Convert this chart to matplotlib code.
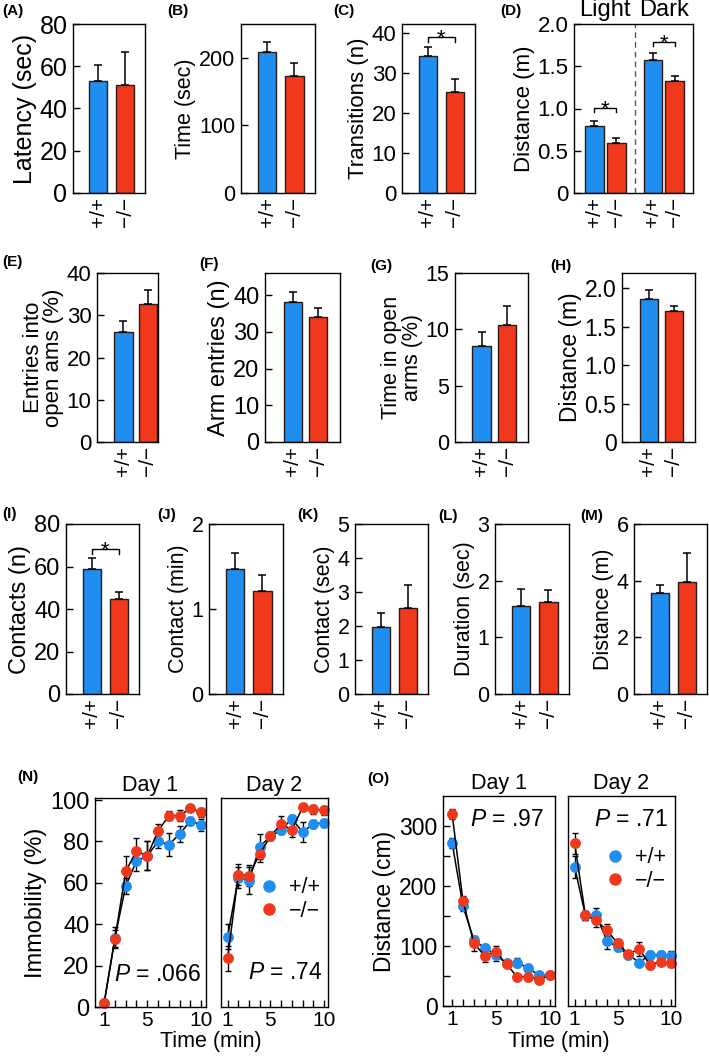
import matplotlib
matplotlib.use("Agg")
import matplotlib.pyplot as plt
from matplotlib.lines import Line2D

plt.rcParams["font.family"] = ["Liberation Sans", "DejaVu Sans"]
plt.rcParams["mathtext.fontset"] = "custom"
plt.rcParams["mathtext.rm"] = "Liberation Sans"
plt.rcParams["mathtext.it"] = "Liberation Sans:italic"

BLUE = "#1f8ef1"
RED = "#f0391c"
EDGE = "#2a1a14"
W, H = 709, 1062

GENO = ["+/+", "\u2212/\u2212"]

# --- bar panels: mean, sem (upper) ---
A_mean, A_sem = [53.2, 51.3], [7.5, 15.3]
B_mean, B_sem = [209, 173], [14, 20]
C_mean, C_sem = [34.2, 25.3], [2.3, 3.1]
D_mean, D_sem = [0.795, 0.59, 1.572, 1.32], [0.06, 0.06, 0.083, 0.07]
E_mean, E_sem = [26.1, 32.7], [2.5, 3.3]
F_mean, F_sem = [38.2, 34.0], [2.6, 2.4]
G_mean, G_sem = [8.5, 10.35], [1.3, 1.7]
H_mean, H_sem = [1.86, 1.71], [0.125, 0.065]
I_mean, I_sem = [58.9, 44.7], [4.9, 3.3]
J_mean, J_sem = [1.47, 1.21], [0.19, 0.19]
K_mean, K_sem = [1.97, 2.53], [0.41, 0.67]
L_mean, L_sem = [1.56, 1.62], [0.29, 0.22]
M_mean, M_sem = [3.57, 3.95], [0.28, 1.04]

# --- time courses (N: immobility %, O: distance cm) ---
MIN = list(range(1, 11))
N1_wt = [2, 33.5, 58.5, 70.5, 73, 80, 78.5, 83.5, 90, 88]
N1_wt_sem = [0, 5, 4, 5, 7, 3, 5.5, 4, 2, 3]
N1_ko = [2, 33, 65.5, 75.5, 73, 85, 92.5, 92.5, 96, 94]
N1_ko_sem = [0, 4, 7.5, 6, 7, 3.5, 2, 2.5, 1.5, 2]
N2_wt = [34, 62.5, 61, 77.5, 82.5, 85.5, 91, 84.5, 88.5, 89]
N2_wt_sem = [6, 5, 6.5, 6, 2, 2, 2, 5, 2, 2]
N2_ko = [23.5, 64, 63.5, 74, 82.5, 88.5, 85.5, 96.5, 95.5, 95]
N2_ko_sem = [6, 5, 5, 4, 2, 4, 3.5, 1, 2, 2]
O1_wt = [272, 166, 110, 96.5, 85.5, 71, 72.5, 63, 51, 52]
O1_wt_sem = [8, 8, 7, 7, 10, 5, 7, 6, 4, 5]
O1_ko = [320, 175, 104.5, 83.5, 90.5, 69.5, 48.5, 49, 44, 51]
O1_ko_sem = [9, 8, 12, 10, 10, 5, 4, 4, 4, 5]
O2_wt = [231.5, 151, 151, 109, 98, 85.5, 72.5, 85.5, 85.5, 84]
O2_wt_sem = [18, 7, 12, 14, 6, 7, 5, 7, 7, 7]
O2_ko = [271, 151, 143, 126, 104.5, 86.5, 95, 68.5, 74, 71]
O2_ko_sem = [18, 8, 12, 10, 8, 6, 11, 7, 6, 6]

fig = plt.figure(figsize=(W / 100, H / 100), dpi=100)


def box(l, r, t, b):
    return fig.add_axes([l / W, 1 - b / H, (r - l) / W, (b - t) / H])


def style(ax, fs):
    for s in ax.spines.values():
        s.set_linewidth(1.0)
    ax.tick_params(axis="y", direction="in", length=5, width=1, labelsize=fs, pad=4)


def bar_panel(ax, means, sems, ylim, yticks, ylabel, fs=16, xlim=(-0.95, 1.75),
              width=0.67, pos=(0, 1), ytl=None):
    cols = [BLUE, RED] * (len(means) // 2)
    ax.bar(pos, means, width, color=cols, edgecolor=EDGE, linewidth=1, zorder=2)
    ax.errorbar(pos, means, yerr=[[0] * len(means), sems], fmt="none", ecolor="k",
                elinewidth=1.1, capsize=3, capthick=1.1, zorder=3)
    ax.set_xlim(*xlim)
    ax.set_ylim(*ylim)
    ax.set_yticks(yticks)
    if ytl:
        ax.set_yticklabels(ytl)
    ax.set_xticks(pos)
    ax.set_xticklabels(GENO * (len(means) // 2), rotation=90, fontsize=15)
    ax.tick_params(axis="x", length=0, pad=3)
    ax.set_ylabel(ylabel, fontsize=fs, labelpad=2, linespacing=0.95)
    style(ax, fs)


def bracket(ax, x0, x1, y, h):
    ax.plot([x0, x0, x1, x1], [y - h, y, y, y - h], color="k", lw=1)
    ax.annotate("*", xy=((x0 + x1) / 2, y), xytext=(0, -5), textcoords="offset points",
                ha="center", va="baseline", fontsize=16)


# row 1
ax = box(73, 145, 24, 193)
bar_panel(ax, A_mean, A_sem, (0, 80), range(0, 81, 20), "Latency (sec)", fs=18)
ax = box(241, 315, 24, 193)
bar_panel(ax, B_mean, B_sem, (0, 250), [0, 100, 200], "Time (sec)", fs=15.5)
ax = box(402, 475, 24, 193)
bar_panel(ax, C_mean, C_sem, (0, 42.2), range(0, 41, 10), "Transitions (n)", fs=16)
bracket(ax, 0, 1, 38.9, 1.1)
ax = box(574, 693, 24, 193)
bar_panel(ax, D_mean, D_sem, (0, 2.0), [0, 0.5, 1.0, 1.5, 2.0], "Distance (m)", fs=16,
          xlim=(-0.91, 4.44), width=0.85, pos=(0, 1, 2.64, 3.62),
          ytl=["0", "0.5", "1.0", "1.5", "2.0"])
ax.axvline(1.82, color="#555555", lw=1, ls=(0, (4, 3)))
bracket(ax, 0, 1, 1.005, 0.045)
bracket(ax, 2.64, 3.62, 1.79, 0.055)
ax.text(0.5, 2.03, "Light", ha="center", va="bottom", fontsize=17)
ax.text(3.13, 2.03, "Dark", ha="center", va="bottom", fontsize=17)

# row 2
ax = box(97, 158, 273, 442)
bar_panel(ax, E_mean, E_sem, (0, 40), range(0, 41, 10), "Entries into\nopen ams (%)", fs=16,
          xlim=(-1.08, 1.41), width=0.75)
ax = box(265, 340, 273, 442)
bar_panel(ax, F_mean, F_sem, (0, 46), range(0, 41, 10), "Arm entries (n)", fs=17,
          xlim=(-1.1, 1.86), width=0.72)
ax = box(455, 528, 273, 442)
bar_panel(ax, G_mean, G_sem, (0, 15), range(0, 16, 5), "Time in open\narms (%)", fs=15.5,
          xlim=(-1.04, 1.82), width=0.72)
ax = box(622, 695, 273, 442)
bar_panel(ax, H_mean, H_sem, (0, 2.2), [0, 0.5, 1.0, 1.5, 2.0], "Distance (m)", fs=16.5,
          xlim=(-1.06, 1.86), width=0.72, ytl=["0", "0.5", "1.0", "1.5", "2.0"])

# row 3
ax = box(66, 139, 524, 694)
bar_panel(ax, I_mean, I_sem, (0, 80), range(0, 81, 20), "Contacts (n)", fs=17)
bracket(ax, 0, 1, 68.2, 2.1)
ax = box(209, 283, 524, 694)
bar_panel(ax, J_mean, J_sem, (0, 2), [0, 1, 2], "Contact (min)", fs=15.5)
ax = box(355, 428, 524, 694)
bar_panel(ax, K_mean, K_sem, (0, 5), range(0, 6), "Contact (sec)", fs=15.5)
ax = box(495, 569, 524, 694)
bar_panel(ax, L_mean, L_sem, (0, 3), range(0, 4), "Duration (sec)", fs=15.5)
ax = box(634, 707, 524, 694)
bar_panel(ax, M_mean, M_sem, (0, 6), [0, 2, 4, 6], "Distance (m)", fs=15.5)


# row 4: time courses
def time_panel(ax, wt, wt_sem, ko, ko_sem, xlim, ylim):
    for y, e, c in ((wt, wt_sem, BLUE), (ko, ko_sem, RED)):
        ax.errorbar(MIN, y, yerr=e, fmt="-o", color="k", mfc=c, mec=c, ms=6.8,
                    lw=1.1, elinewidth=1, capsize=2.5, capthick=1, clip_on=False)
    ax.set_xlim(*xlim)
    ax.set_ylim(*ylim)
    ax.set_xticks([1, 5, 10])
    ax.set_xticks(MIN, minor=True)
    ax.tick_params(axis="x", which="both", direction="in", length=5, width=1,
                   labelsize=15, pad=3)
    for s in ax.spines.values():
        s.set_linewidth(1.0)


def legend(ax, x0, y0):
    h = [Line2D([], [], marker="o", ls="none", color=c, ms=8) for c in (BLUE, RED)]
    ax.legend(h, GENO, loc="upper left", bbox_to_anchor=(x0, y0), frameon=False,
              fontsize=15.5, handlelength=0.8, handletextpad=0.5, labelspacing=0.1,
              borderaxespad=0, borderpad=0)


def ptext(ax, x, y, s):
    ax.text(x, y, "$P$ = " + s, transform=ax.transAxes, ha="center", va="center",
            fontsize=16.5)


ax1 = box(95, 206, 798, 1007)
time_panel(ax1, N1_wt, N1_wt_sem, N1_ko, N1_ko_sem, (0.15, 10.45), (0, 101))
ax1.set_yticks(range(0, 101, 20))
ax1.tick_params(axis="y", direction="in", length=5, width=1, labelsize=17, pad=4)
ax1.set_ylabel("Immobility (%)", fontsize=17, labelpad=2)
ax1.set_title("Day 1", fontsize=15.5, pad=5)
ptext(ax1, 0.56, 0.155, ".066")
ax2 = box(221, 328, 798, 1007)
time_panel(ax2, N2_wt, N2_wt_sem, N2_ko, N2_ko_sem, (0.38, 10.38), (0, 101))
ax2.set_yticks([])
ax2.set_title("Day 2", fontsize=15.5, pad=5)
ptext(ax2, 0.6, 0.165, ".74")
legend(ax2, 0.37, 0.62)
fig.text(211 / W, 1 - 1041 / H, "Time (min)", ha="center", va="center", fontsize=15.5)

ax3 = box(443, 555, 796, 1006)
time_panel(ax3, O1_wt, O1_wt_sem, O1_ko, O1_ko_sem, (0.16, 10.46), (0, 350))
ax3.set_yticks([0, 100, 200, 300])
ax3.set_yticks([50, 150, 250], minor=True)
ax3.tick_params(axis="y", which="both", direction="in", length=5, width=1,
                labelsize=16.5, pad=4)
ax3.set_ylabel("Distance (cm)", fontsize=16.5, labelpad=2)
ax3.set_title("Day 1", fontsize=15.5, pad=5)
ptext(ax3, 0.57, 0.886, ".97")
ax4 = box(568, 675, 796, 1006)
time_panel(ax4, O2_wt, O2_wt_sem, O2_ko, O2_ko_sem, (0.38, 10.33), (0, 350))
ax4.set_yticks([])
ax4.set_title("Day 2", fontsize=15.5, pad=5)
ptext(ax4, 0.59, 0.886, ".71")
legend(ax4, 0.36, 0.755)
fig.text(559 / W, 1 - 1041 / H, "Time (min)", ha="center", va="center", fontsize=15.5)

# panel letters
LETTERS = [("(A)", 2, 11), ("(B)", 167, 11), ("(C)", 333, 11), ("(D)", 500, 11),
           ("(E)", 2, 262), ("(F)", 199, 264), ("(G)", 370, 266), ("(H)", 550, 266),
           ("(I)", 2, 514), ("(J)", 157, 515), ("(K)", 297, 515), ("(L)", 438, 516),
           ("(M)", 580, 516), ("(N)", 17, 777), ("(O)", 367, 779)]
for s, x, y in LETTERS:
    fig.text(x / W, 1 - y / H, s, ha="left", va="center", fontsize=11, fontweight="bold")

fig.savefig("out.png", dpi=100)
